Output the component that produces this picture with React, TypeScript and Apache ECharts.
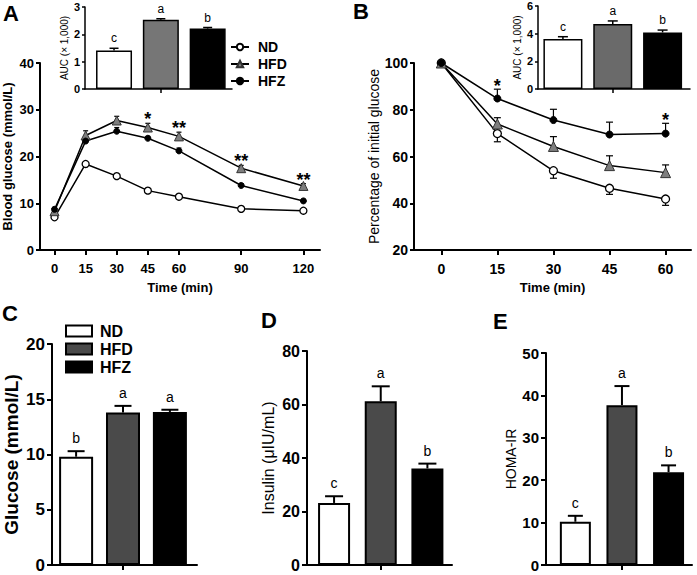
import React, { useEffect, useRef } from 'react';
import * as echarts from 'echarts';

const FONT = '"Liberation Sans", Arial, Helvetica, sans-serif';

// ---------- Panel A: OGTT (mmol/L) ----------
const ogttTime = [0, 15, 30, 45, 60, 90, 120];
const ogttND = [7.0, 18.4, 15.8, 12.7, 11.4, 8.8, 8.4];
const ogttNDErr = [-0.3, -0.6, -0.5, -0.4, -0.4, -0.3, -0.3];
const ogttHFD = [8.3, 24.5, 27.7, 26.2, 24.3, 17.5, 13.7];
const ogttHFDErr = [0.5, 1.0, 0.9, 0.9, 0.9, 0.6, 0.5];
const ogttHFZ = [8.7, 23.3, 25.4, 23.9, 21.2, 13.8, 10.5];
const ogttHFZErr = [0.4, 0.7, 0.8, 0.4, 0.6, 0.4, 0.3];
const ogttStars = ['', '', '', '*', '**', '**', '**'];

// Panel A inset: AUC (x 1,000)
const aucOgtt = [1.41, 2.53, 2.21];
const aucOgttErr = [0.08, 0.04, 0.04];
const aucOgttLetters = ['c', 'a', 'b'];

// ---------- Panel B: ITT (% of initial) ----------
const ittTime = [0, 15, 30, 45, 60];
const ittND = [100, 69.8, 53.9, 46.4, 41.8];
const ittNDErr = [0, -3.5, -3.2, -2.6, -2.7];
const ittHFD = [100, 73.9, 64.3, 56.1, 53.1];
const ittHFDErr = [0, 2.7, 4.2, 4.2, 3.3];
const ittHFZ = [100, 84.8, 75.6, 69.4, 69.8];
const ittHFZErr = [0, 4.0, 4.6, 5.3, 4.4];
const ittStars = ['', '*', '', '', '*'];

// Panel B inset: AUC (x 1,000)
const aucItt = [3.61, 4.69, 4.09];
const aucIttErr = [0.17, 0.23, 0.17];
const aucIttLetters = ['c', 'a', 'b'];

// ---------- Panels C, D, E ----------
const groups = ['ND', 'HFD', 'HFZ'];
const glucose = [9.8, 13.8, 13.85];
const glucoseErr = [0.5, 0.6, 0.2];
const glucoseLetters = ['b', 'a', 'a'];
const insulin = [23.2, 61.2, 36.1];
const insulinErr = [2.5, 5.6, 1.8];
const insulinLetters = ['c', 'a', 'b'];
const homa = [10.2, 37.7, 21.9];
const homaErr = [1.4, 4.5, 1.6];
const homaLetters = ['c', 'a', 'b'];

const insetColors = ['#ffffff', '#767676', '#000000'];
const insetColorsB = ['#ffffff', '#6a6a6a', '#000000'];
const barColors = ['#ffffff', '#4a4a4a', '#000000'];

const pairs = (xs: number[], ys: number[]) => xs.map((x, i) => [x, ys[i]]);

function errorBars(
  xi: number,
  xs: number[],
  vals: number[],
  errs: number[],
  capW: number,
  lw: number,
  labels: string[] | null,
  labelOffset: number,
  labelFont: string,
  z: number
) {
  return {
    type: 'custom',
    xAxisIndex: xi,
    yAxisIndex: xi,
    z,
    silent: true,
    encode: { x: 0, y: 1 },
    data: xs.map((x, i) => [x, vals[i], errs[i], i]),
    renderItem: (params: any, api: any) => {
      const x = api.value(0);
      const v = api.value(1);
      const e = api.value(2);
      const idx = api.value(3);
      const p0 = api.coord([x, v]);
      const p1 = api.coord([x, v + e]);
      const children: any[] = [];
      if (e !== 0) {
        children.push({
          type: 'line',
          shape: { x1: p0[0], y1: p0[1], x2: p1[0], y2: p1[1] },
          style: { stroke: '#000', lineWidth: lw },
        });
        children.push({
          type: 'line',
          shape: { x1: p1[0] - capW / 2, y1: p1[1], x2: p1[0] + capW / 2, y2: p1[1] },
          style: { stroke: '#000', lineWidth: lw },
        });
      }
      const lab = labels ? labels[idx] : '';
      if (lab) {
        const top = Math.min(p0[1], p1[1]);
        children.push({
          type: 'text',
          x: p1[0],
          y: top - labelOffset,
          style: { text: lab, fill: '#000', font: labelFont, align: 'center', verticalAlign: 'bottom' },
        });
      }
      return { type: 'group', children };
    },
  };
}

const axisLine = (w: number) => ({ onZero: false, lineStyle: { color: '#000', width: w } });
const tick = (len: number, w: number, custom?: number[]) => ({
  show: true,
  inside: false,
  length: len,
  lineStyle: { color: '#000', width: w },
  ...(custom ? { customValues: custom } : {}),
});
const label = (size: number, margin: number, bold = true) => ({
  color: '#000',
  fontFamily: FONT,
  fontSize: size,
  fontWeight: bold ? 'bold' : 'normal',
  margin,
});
const nameStyle = (size: number, bold: boolean) => ({
  color: '#000',
  fontFamily: FONT,
  fontSize: size,
  fontWeight: bold ? 'bold' : 'normal',
});
const grid = (left: number, top: number, width: number, height: number) => ({
  left,
  top,
  width,
  height,
  containLabel: false,
  outerBoundsMode: 'none',
});

function buildOption() {
  const xAxis: any[] = [
    {
      gridIndex: 0, type: 'value', min: -7, max: 128,
      axisLine: axisLine(2), axisTick: tick(5, 2, ogttTime),
      axisLabel: { ...label(13, 12), customValues: ogttTime }, splitLine: { show: false },
      name: 'Time (min)', nameLocation: 'middle', nameGap: 31, nameTextStyle: nameStyle(13, true),
    },
    {
      gridIndex: 1, type: 'value', min: 0.38, max: 3.52,
      axisLine: axisLine(1.5), axisTick: tick(4, 1.5, [2]),
      axisLabel: { show: false }, splitLine: { show: false },
    },
    {
      gridIndex: 2, type: 'value', min: -7.3, max: 66.8,
      axisLine: axisLine(2), axisTick: tick(5, 2, ittTime),
      axisLabel: { ...label(14, 12), customValues: ittTime }, splitLine: { show: false },
      name: 'Time (min)', nameLocation: 'middle', nameGap: 31, nameTextStyle: nameStyle(13, true),
    },
    {
      gridIndex: 3, type: 'value', min: 0.5, max: 3.55,
      axisLine: axisLine(1.5), axisTick: tick(4, 1.5, [2]),
      axisLabel: { show: false }, splitLine: { show: false },
    },
    {
      gridIndex: 4, type: 'value', min: 0.486, max: 3.578,
      axisLine: axisLine(2), axisTick: tick(5, 2, [2]),
      axisLabel: { show: false }, splitLine: { show: false },
    },
    {
      gridIndex: 5, type: 'value', min: 0.42, max: 3.527,
      axisLine: axisLine(2), axisTick: tick(5, 2, [2]),
      axisLabel: { show: false }, splitLine: { show: false },
    },
    {
      gridIndex: 6, type: 'value', min: 0.37, max: 3.503,
      axisLine: axisLine(2), axisTick: tick(5, 2, [2]),
      axisLabel: { show: false }, splitLine: { show: false },
    },
  ];

  const yAxis: any[] = [
    {
      gridIndex: 0, type: 'value', min: 0, max: 40, interval: 10,
      axisLine: axisLine(2), axisTick: tick(4, 2), axisLabel: label(13, 6), splitLine: { show: false },
      name: 'Blood glucose (mmol/L)', nameLocation: 'middle', nameGap: 26, nameTextStyle: nameStyle(13, true),
    },
    {
      gridIndex: 1, type: 'value', min: 0, max: 3, interval: 1,
      axisLine: axisLine(1.5), axisTick: tick(3, 1.5), axisLabel: label(11, 5), splitLine: { show: false },
      name: 'AUC (× 1,000)', nameLocation: 'middle', nameGap: 12, nameTextStyle: nameStyle(10, false),
    },
    {
      gridIndex: 2, type: 'value', min: 20, max: 100, interval: 20,
      axisLine: axisLine(2), axisTick: tick(4, 2), axisLabel: label(14, 6), splitLine: { show: false },
      name: 'Percentage of initial glucose', nameLocation: 'middle', nameGap: 29, nameTextStyle: nameStyle(14, false),
    },
    {
      gridIndex: 3, type: 'value', min: 0, max: 6, interval: 2,
      axisLine: axisLine(1.5), axisTick: tick(3, 1.5), axisLabel: label(11, 5), splitLine: { show: false },
      name: 'AUC (× 1,000)', nameLocation: 'middle', nameGap: 15, nameTextStyle: nameStyle(10, false),
    },
    {
      gridIndex: 4, type: 'value', min: 0, max: 20, interval: 5,
      axisLine: axisLine(2), axisTick: tick(5, 2), axisLabel: label(17, 7), splitLine: { show: false },
      name: 'Glucose (mmol/L)', nameLocation: 'middle', nameGap: 31, nameTextStyle: nameStyle(19, true),
    },
    {
      gridIndex: 5, type: 'value', min: 0, max: 80, interval: 20,
      axisLine: axisLine(2), axisTick: tick(5, 2), axisLabel: label(16, 7), splitLine: { show: false },
      name: 'Insulin (μIU/mL)', nameLocation: 'middle', nameGap: 31, nameTextStyle: nameStyle(16, false),
    },
    {
      gridIndex: 6, type: 'value', min: 0, max: 50, interval: 10,
      axisLine: axisLine(2), axisTick: tick(5, 2), axisLabel: label(15, 7), splitLine: { show: false },
      name: 'HOMA-IR', nameLocation: 'middle', nameGap: 28, nameTextStyle: nameStyle(14, false),
    },
  ];

  const lineBase = { color: '#000', width: 1.5 };
  const ndSym = { symbol: 'circle', symbolSize: 7, itemStyle: { color: '#fff', borderColor: '#000', borderWidth: 1.3 } };
  const hfdSym = { symbol: 'triangle', symbolSize: 9, itemStyle: { color: '#7e7e7e', borderColor: '#333', borderWidth: 1 } };
  const hfzSym = { symbol: 'circle', symbolSize: 6, itemStyle: { color: '#000', borderColor: '#000', borderWidth: 1 } };

  const barData = (vals: number[], colors: string[]) =>
    vals.map((v, i) => ({ value: [i + 1, v], itemStyle: { color: colors[i] } }));

  const starFont = `bold 18px ${FONT}`;

  const series: any[] = [
    // Panel A lines
    { type: 'line', name: 'ND', xAxisIndex: 0, yAxisIndex: 0, data: pairs(ogttTime, ogttND), lineStyle: lineBase, z: 5, ...ndSym },
    { type: 'line', name: 'HFD', xAxisIndex: 0, yAxisIndex: 0, data: pairs(ogttTime, ogttHFD), lineStyle: lineBase, z: 5, ...hfdSym },
    { type: 'line', name: 'HFZ', xAxisIndex: 0, yAxisIndex: 0, data: pairs(ogttTime, ogttHFZ), lineStyle: lineBase, z: 5, ...hfzSym },
    errorBars(0, ogttTime, ogttND, ogttNDErr, 5, 1.2, null, 0, '', 4),
    errorBars(0, ogttTime, ogttHFD, ogttHFDErr, 5, 1.2, ogttStars, -5, starFont, 4),
    errorBars(0, ogttTime, ogttHFZ, ogttHFZErr, 5, 1.2, null, 0, '', 4),
    // Panel A inset
    {
      type: 'bar', xAxisIndex: 1, yAxisIndex: 1, barWidth: 36, z: 2,
      data: barData(aucOgtt, insetColors),
      itemStyle: { borderColor: '#000', borderWidth: 1.5 },
    },
    errorBars(1, [1, 2, 3], aucOgtt, aucOgttErr, 9, 1.5, aucOgttLetters, 4, `12px ${FONT}`, 3),
    // Panel B lines
    { type: 'line', name: 'ND', xAxisIndex: 2, yAxisIndex: 2, data: pairs(ittTime, ittND), lineStyle: lineBase, z: 5, ...ndSym, symbolSize: 8 },
    { type: 'line', name: 'HFD', xAxisIndex: 2, yAxisIndex: 2, data: pairs(ittTime, ittHFD), lineStyle: lineBase, z: 5, ...hfdSym, symbolSize: 10 },
    { type: 'line', name: 'HFZ', xAxisIndex: 2, yAxisIndex: 2, data: pairs(ittTime, ittHFZ), lineStyle: lineBase, z: 5, ...hfzSym, symbolSize: 7 },
    errorBars(2, ittTime, ittND, ittNDErr, 7, 1.2, null, 0, '', 4),
    errorBars(2, ittTime, ittHFD, ittHFDErr, 7, 1.2, null, 0, '', 4),
    errorBars(2, ittTime, ittHFZ, ittHFZErr, 7, 1.2, ittStars, -6, starFont, 4),
    // Panel B inset
    {
      type: 'bar', xAxisIndex: 3, yAxisIndex: 3, barWidth: 39, z: 2,
      data: barData(aucItt, insetColorsB),
      itemStyle: { borderColor: '#000', borderWidth: 1.5 },
    },
    errorBars(3, [1, 2, 3], aucItt, aucIttErr, 10, 1.5, aucIttLetters, 4, `12px ${FONT}`, 3),
    // Panel C (one series per group for its legend)
    ...groups.map((g, i) => ({
      type: 'bar', name: 'C-' + g, xAxisIndex: 4, yAxisIndex: 4, barWidth: 34, barGap: '-100%', z: 2,
      data: [[i + 1, glucose[i]]],
      itemStyle: { color: barColors[i], borderColor: '#000', borderWidth: 2 },
    })),
    errorBars(4, [1, 2, 3], glucose, glucoseErr, 17, 2, glucoseLetters, 6, `14px ${FONT}`, 3),
    // Panel D
    {
      type: 'bar', xAxisIndex: 5, yAxisIndex: 5, barWidth: 32, z: 2,
      data: barData(insulin, barColors),
      itemStyle: { borderColor: '#000', borderWidth: 2 },
    },
    errorBars(5, [1, 2, 3], insulin, insulinErr, 18, 2, insulinLetters, 6, `14px ${FONT}`, 3),
    // Panel E
    {
      type: 'bar', xAxisIndex: 6, yAxisIndex: 6, barWidth: 31, z: 2,
      data: barData(homa, barColors),
      itemStyle: { borderColor: '#000', borderWidth: 2 },
    },
    errorBars(6, [1, 2, 3], homa, homaErr, 15, 2, homaLetters, 6, `14px ${FONT}`, 3),
  ];

  const panelLetter = (t: string, x: number, y: number) => ({
    type: 'text',
    left: x,
    top: y,
    style: { text: t, font: `bold 22px ${FONT}`, fill: '#000' },
  });

  return {
    animation: false,
    backgroundColor: '#ffffff',
    textStyle: { fontFamily: FONT },
    grid: [
      grid(40, 63, 280, 187),
      grid(85, 7, 147, 82),
      grid(414, 63, 277, 187),
      grid(538, 6, 152, 83),
      grid(52, 344, 145, 221),
      grid(307, 351, 145, 214),
      grid(546, 353, 146, 212),
    ],
    xAxis,
    yAxis,
    legend: [
      {
        data: ['ND', 'HFD', 'HFZ'],
        orient: 'vertical',
        left: 225,
        top: 35,
        itemWidth: 18,
        itemHeight: 8,
        itemGap: 3,
        selectedMode: false,
        textStyle: { color: '#000', fontFamily: FONT, fontWeight: 'bold', fontSize: 14, padding: [0, 0, 0, 4] },
      },
      {
        data: ['C-ND', 'C-HFD', 'C-HFZ'],
        orient: 'vertical',
        left: 60,
        top: 318,
        itemWidth: 26,
        itemHeight: 11,
        itemGap: 2,
        icon: 'rect',
        selectedMode: false,
        formatter: (n: string) => n.replace(/^C-/, ''),
        textStyle: { color: '#000', fontFamily: FONT, fontWeight: 'bold', fontSize: 16, padding: [0, 0, 0, 3] },
      },
    ],
    graphic: [
      panelLetter('A', 3, 2),
      panelLetter('B', 353, 0),
      panelLetter('C', 2, 302),
      panelLetter('D', 261, 309),
      panelLetter('E', 493, 310),
    ],
    series,
  };
}

export default function App() {
  const ref = useRef<HTMLDivElement>(null);
  useEffect(() => {
    document.body.style.margin = '0';
    const chart = echarts.init(ref.current!, null, { renderer: 'svg' });
    chart.setOption(buildOption() as any);
    return () => chart.dispose();
  }, []);
  return <div ref={ref} style={{ width: 697, height: 575 }} />;
}
